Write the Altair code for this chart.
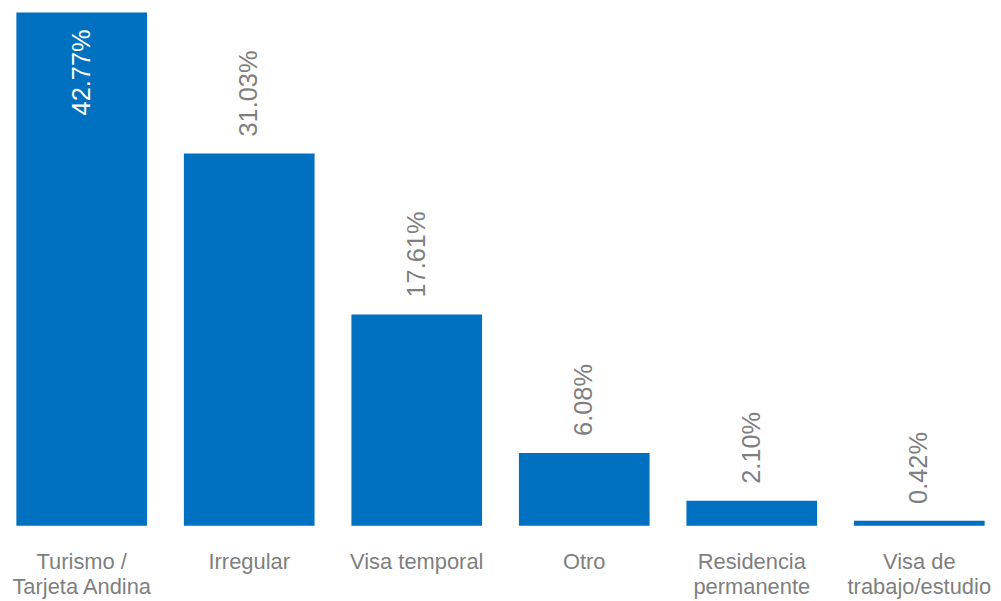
import altair as alt
import pandas as pd

categories = ["Turismo /|Tarjeta Andina", "Irregular", "Visa temporal", "Otro",
              "Residencia|permanente", "Visa de|trabajo/estudio"]
values = [42.77, 31.03, 17.61, 6.08, 2.10, 0.42]

df = pd.DataFrame({"cat": categories, "v": values})

BLUE = "#0070C0"
GREY = "#7F7F7F"
FONT = "Liberation Sans"

x = alt.X("cat:N", sort=categories, title=None,
          scale=alt.Scale(paddingInner=0.22, paddingOuter=0.05),
          axis=alt.Axis(labelAngle=0, labelExpr="split(datum.value, '|')",
                        labelFontSize=22, labelColor=GREY, labelFont=FONT,
                        labelLineHeight=25, labelPadding=26, ticks=False,
                        domain=False, grid=False, labelBaseline="top"))
y = alt.Y("v:Q", title=None, scale=alt.Scale(domain=[0, 42.77], nice=False, zero=True),
          axis=None)

base = alt.Chart(df).encode(x=x, y=y).transform_calculate(
    label="format(datum.v, '.2f') + '%'")

bars = base.mark_bar(color=BLUE)

outside = base.transform_filter("datum.v < 40").mark_text(
    angle=270, align="left", baseline="middle", dx=17,
    fontSize=25.5, font=FONT, color=GREY).encode(text="label:N")

inside = base.transform_filter("datum.v >= 40").mark_text(
    angle=270, align="right", baseline="middle", dx=-17,
    fontSize=25.5, font=FONT, color="white").encode(text="label:N")

chart = alt.layer(bars, outside, inside).properties(
    width=990, height=516,
    padding={"left": 0, "top": 3, "right": 0, "bottom": 0},
).configure_view(stroke=None)

chart.save("out.html", embed_options={"renderer": "svg", "actions": False})
